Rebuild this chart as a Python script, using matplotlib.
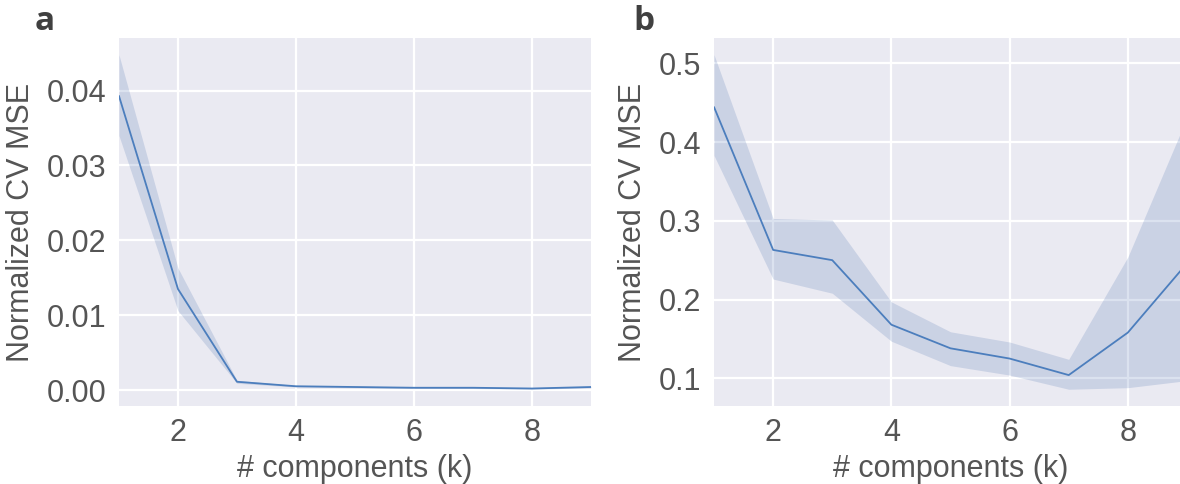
"""
Cross-validated reconstruction error vs. number of components,
for the two datasets (panels a and b).
"""
from matplotlib import pyplot as plt
import numpy as np
import seaborn as sns

k = [1, 2, 3, 4, 5, 6, 7, 8, 9]

# panel a: mean normalized CV MSE with its CI band
mse_a = [0.0393, 0.0135, 0.0011, 0.0005, 0.0004, 0.0003, 0.0003, 0.0002, 0.0004]
lo_a = [0.0340, 0.0106, 0.0009, 0.0004, 0.0003, 0.0002, 0.0002, 0.0001, 0.0003]
hi_a = [0.0448, 0.0163, 0.0013, 0.0006, 0.0005, 0.0004, 0.0004, 0.0003, 0.0005]

# panel b
mse_b = [0.4445, 0.263, 0.250, 0.168, 0.138, 0.125, 0.104, 0.158, 0.246]
lo_b = [0.383, 0.226, 0.208, 0.147, 0.116, 0.104, 0.086, 0.088, 0.097]
hi_b = [0.511, 0.303, 0.301, 0.197, 0.159, 0.146, 0.124, 0.254, 0.431]

sns.set_style("darkgrid")
plt.rcParams['font.family'] = ['Liberation Sans', 'DejaVu Sans']

BLUE = "#4c7ebd"
TXT = "#555555"


def _panel(ax, mean, lo, hi, yticks, fmt):
    ax.fill_between(k, lo, hi, color="#4c72b0", alpha=0.2, lw=0)
    ax.plot(k, mean, color=BLUE, lw=1.3)
    ax.set_xlim(1, 9)
    ax.set_xticks([2, 4, 6, 8])
    ax.set_yticks(yticks)
    ax.set_yticklabels([fmt.format(t) for t in yticks])
    ax.tick_params(labelsize=22, colors=TXT, length=0, pad=9)
    ax.set_xlabel("# components (k)", fontsize=22, color=TXT, labelpad=4)
    ax.set_ylabel("Normalized CV MSE", fontsize=22, color=TXT, labelpad=8)
    ax.grid(color="white", lw=1.6)
    for s in ax.spines.values():
        s.set_visible(False)


fig = plt.figure(figsize=(11.8, 4.84), dpi=100)
ax_a = fig.add_axes([0.1008, 0.1612, 0.4, 0.7603])
ax_b = fig.add_axes([0.6051, 0.1612, 0.4008, 0.7603])

_panel(ax_a, mse_a, lo_a, hi_a, [0.0, 0.01, 0.02, 0.03, 0.04], "{:.2f}")
_panel(ax_b, mse_b, lo_b, hi_b, [0.1, 0.2, 0.3, 0.4, 0.5], "{:.1f}")

ax_a.margins(y=0.05)
ax_b.margins(y=0.05)

fig.text(0.029, 0.938, "a", fontsize=24, fontweight="bold", color="#404040",
         family=["Open Sans", "DejaVu Sans"], va="baseline")
fig.text(0.537, 0.938, "b", fontsize=24, fontweight="bold", color="#404040",
         family=["Open Sans", "DejaVu Sans"], va="baseline")

plt.savefig("out.png", dpi=100)
